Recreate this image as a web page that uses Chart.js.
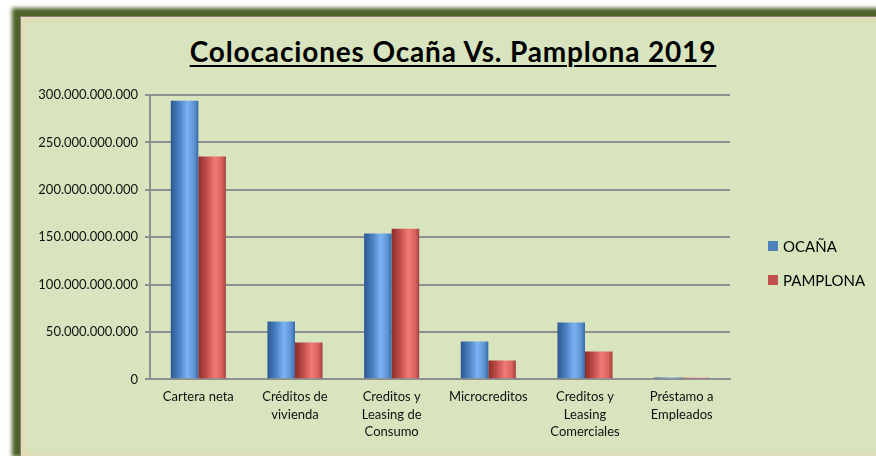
<!DOCTYPE html>
<html>
<head>
<meta charset="utf-8">
<script src="https://cdn.jsdelivr.net/npm/chart.js@4/dist/chart.umd.min.js"></script>
<style>
    body { margin: 0; background: #ffffff; overflow: hidden; width: 876px; height: 456px; position: relative; font-family: Lato, "Open Sans", sans-serif; }
    #panel {
        position: absolute; left: 20px; top: 16px; width: 900px; height: 442px;
        background: #d7e4bd;
        border-left: 1px solid #7f7f7f; border-top: 1px solid #7f7f7f;
        box-shadow: -5px -5px 4px 3px #4f6228, inset 4px 4px 6px -1px #e9d9b3, inset 0 -8px 7px -4px #e9d9b3;
    }
    #title {
        position: absolute; left: 100px; width: 706px; top: 37px;
        text-align: center; font-weight: bold; font-size: 28px; line-height: 28px; color: #000;
        letter-spacing: 0.85px;
        text-decoration: underline; text-decoration-thickness: 2px; text-underline-offset: 3px;
    }
    #chart { position: absolute; left: 0; top: 0; }
    #legend { position: absolute; left: 768px; top: 238px; font-size: 15px; color: #000; }
    #legend div { height: 34px; line-height: 16px; white-space: nowrap; }
    #legend span { display: inline-block; width: 10px; height: 10px; margin-right: 5px; vertical-align: 1px; }
</style>
</head>
<body>
<div id="panel"></div>
<div id="title">Colocaciones Ocaña Vs. Pamplona 2019</div>
<canvas id="chart" width="876" height="456"></canvas>
<div id="legend"></div>
<script>
// Chart data
const categories = [
    'Cartera neta',
    ['Créditos de', 'vivienda'],
    ['Creditos y', 'Leasing de', 'Consumo'],
    'Microcreditos',
    ['Creditos y', 'Leasing', 'Comerciales'],
    ['Préstamo a', 'Empleados']
];
const seriesNames = ['OCAÑA', 'PAMPLONA'];
const ocanaValues = [294000000000, 61000000000, 154000000000, 40000000000, 60000000000, 2000000000];
const pamplonaValues = [235000000000, 39000000000, 159000000000, 20000000000, 29500000000, 1800000000];
const yTicks = [0, 50000000000, 100000000000, 150000000000, 200000000000, 250000000000, 300000000000];

const seriesColors = ['#4f81bd', '#c0504d'];
// cylinder-like shading, dark edge -> light -> dark edge
const seriesShades = [
    ['#2c5890', '#4a80c2', '#7db3f3', '#5d93d4', '#3a69a6'],
    ['#8c2d2a', '#bf4d4a', '#f27a77', '#d9625e', '#a4413e']
];
const CAT_PCT = 0.57;

function barGradient(context) {
    const chart = context.chart;
    const xScale = chart.scales.x;
    if (!chart.chartArea || !xScale) return seriesColors[context.datasetIndex];
    const center = xScale.getPixelForValue(context.dataIndex);
    const catWidth = (xScale.right - xScale.left) / categories.length;
    const w = catWidth * CAT_PCT / 2;
    const x0 = context.datasetIndex === 0 ? center - w : center;
    const g = chart.ctx.createLinearGradient(x0, 0, x0 + w, 0);
    const s = seriesShades[context.datasetIndex];
    g.addColorStop(0, s[0]);
    g.addColorStop(0.3, s[1]);
    g.addColorStop(0.6, s[2]);
    g.addColorStop(0.85, s[3]);
    g.addColorStop(1, s[4]);
    return g;
}

function formatNumber(v) {
    return String(v).replace(/\B(?=(\d{3})+(?!\d))/g, '.');
}

function initColocacionesChart() {
    const ctx = document.getElementById('chart');
    if (!ctx) return;

    new Chart(ctx, {
        type: 'bar',
        data: {
            labels: categories,
            datasets: [{
                label: seriesNames[0],
                data: ocanaValues,
                backgroundColor: barGradient,
                borderWidth: 0
            }, {
                label: seriesNames[1],
                data: pamplonaValues,
                backgroundColor: barGradient,
                borderWidth: 0
            }]
        },
        options: {
            responsive: false,
            animation: false,
            layout: {
                padding: { left: 30, right: 146, top: 95, bottom: 6 }
            },
            datasets: {
                bar: { categoryPercentage: CAT_PCT, barPercentage: 1.0 }
            },
            plugins: {
                legend: { display: false },
                title: { display: false },
                tooltip: { enabled: false }
            },
            scales: {
                x: {
                    grid: { display: false, drawTicks: false },
                    border: { display: true, color: '#8f8f8f', width: 2 },
                    ticks: {
                        padding: 9,
                        maxRotation: 0,
                        autoSkip: false,
                        color: '#111',
                        font: { family: 'Lato', size: 13, lineHeight: 1.35 }
                    }
                },
                y: {
                    min: 0,
                    max: 300000000000,
                    afterFit: (scale) => { scale.width = 120; },
                    afterBuildTicks: (scale) => { scale.ticks = yTicks.map(v => ({ value: v })); },
                    grid: { color: '#8f8f8f', lineWidth: 2, tickLength: 5 },
                    border: { display: true, color: '#8f8f8f', width: 2 },
                    ticks: {
                        padding: 7,
                        color: '#111',
                        font: { family: 'Lato', size: 13 },
                        callback: (v) => formatNumber(v)
                    }
                }
            }
        }
    });
}

function initLegend() {
    const box = document.getElementById('legend');
    seriesNames.forEach((name, i) => {
        const row = document.createElement('div');
        const sw = document.createElement('span');
        sw.style.background = seriesColors[i];
        row.appendChild(sw);
        row.appendChild(document.createTextNode(name));
        box.appendChild(row);
    });
}

initColocacionesChart();
initLegend();
</script>
</body>
</html>
